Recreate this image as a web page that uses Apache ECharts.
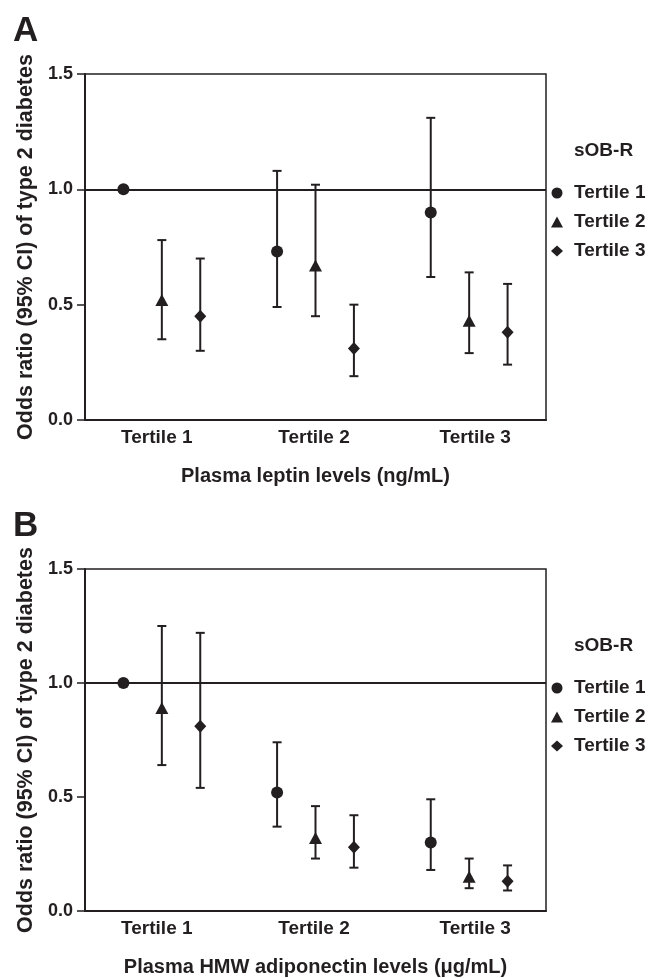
<!DOCTYPE html>
<html>
<head>
<meta charset="utf-8">
<title>Odds ratio of type 2 diabetes by sOB-R tertiles</title>
<script src="https://cdn.jsdelivr.net/npm/echarts@6/dist/echarts.min.js"></script>
<style>
  html, body { margin: 0; padding: 0; background: #fff; }
  #chart { width: 653px; height: 978px; }
</style>
</head>
<body>
<div id="chart"></div>
<script>
// x categories (tertiles of the plasma marker) and sOB-R groups
const categories = ['Tertile 1', 'Tertile 2', 'Tertile 3']
const sobrGroups = ['Tertile 1', 'Tertile 2', 'Tertile 3']
const yTicks = [0, 0.5, 1.0, 1.5]

// A: leptin, one array per sOB-R tertile (value per leptin tertile)
const leptinOR1 = [1.00, 0.73, 0.90]
const leptinLow1 = [null, 0.49, 0.62]
const leptinHigh1 = [null, 1.08, 1.31]
const leptinOR2 = [0.52, 0.67, 0.43]
const leptinLow2 = [0.35, 0.45, 0.29]
const leptinHigh2 = [0.78, 1.02, 0.64]
const leptinOR3 = [0.45, 0.31, 0.38]
const leptinLow3 = [0.30, 0.19, 0.24]
const leptinHigh3 = [0.70, 0.50, 0.59]

// B: HMW adiponectin
const adipoOR1 = [1.00, 0.52, 0.30]
const adipoLow1 = [null, 0.37, 0.18]
const adipoHigh1 = [null, 0.74, 0.49]
const adipoOR2 = [0.89, 0.32, 0.15]
const adipoLow2 = [0.64, 0.23, 0.10]
const adipoHigh2 = [1.25, 0.46, 0.23]
const adipoOR3 = [0.81, 0.28, 0.13]
const adipoLow3 = [0.54, 0.19, 0.09]
const adipoHigh3 = [1.22, 0.42, 0.20]

const INK = '#231f20'
const FONT = '"Liberation Sans", Arial, Helvetica, sans-serif'
const symbols = ['circle', 'triangle', 'diamond']
const symbolSizes = [12, [13, 12], [12, 13]]
const shift = [-0.25, 0, 0.25]   // position inside each category band

const panels = [
  {
    letter: 'A', top: 74, xName: 'Plasma leptin levels (ng/mL)',
    or: [leptinOR1, leptinOR2, leptinOR3],
    low: [leptinLow1, leptinLow2, leptinLow3],
    high: [leptinHigh1, leptinHigh2, leptinHigh3]
  },
  {
    letter: 'B', top: 569, xName: 'Plasma HMW adiponectin levels (\u03bcg/mL)',
    or: [adipoOR1, adipoOR2, adipoOR3],
    low: [adipoLow1, adipoLow2, adipoLow3],
    high: [adipoHigh1, adipoHigh2, adipoHigh3]
  }
]

const chart = echarts.init(document.getElementById('chart'))

const grid = [], xAxis = [], yAxis = [], series = [], title = [], legend = []

// error bar with caps
function errorBar(params, api) {
  const x = api.value(0)
  const lo = api.coord([x, api.value(1)])
  const hi = api.coord([x, api.value(2)])
  const w = 4.5
  const style = { stroke: INK, lineWidth: 2 }
  return {
    type: 'group',
    children: [
      { type: 'line', shape: { x1: lo[0], y1: lo[1], x2: hi[0], y2: hi[1] }, style },
      { type: 'line', shape: { x1: lo[0] - w, y1: lo[1], x2: lo[0] + w, y2: lo[1] }, style },
      { type: 'line', shape: { x1: hi[0] - w, y1: hi[1], x2: hi[0] + w, y2: hi[1] }, style }
    ]
  }
}

const labelFont = { color: INK, fontSize: 19, fontWeight: 'bold', fontFamily: FONT }

panels.forEach((p, k) => {
  grid.push({
    left: 85, top: p.top, width: 461, height: 346,
    show: true, borderColor: INK, borderWidth: 1.5
  })

  // visible category axis for the labels
  xAxis.push({
    type: 'category', gridIndex: k, data: categories, position: 'bottom',
    boundaryGap: true,
    axisLine: { lineStyle: { color: INK, width: 2 } },
    axisTick: { show: false },
    axisLabel: {
      ...labelFont, margin: 8,
      // the labels in the figure sit slightly off the band centres
      formatter: (v, i) => ['{a|', '{b|', '{c|'][i] + v + '}',
      rich: {
        a: { ...labelFont, padding: [0, 10, 0, 0] },
        b: { ...labelFont, padding: [0, 3, 0, 0] },
        c: { ...labelFont, padding: [0, 0, 0, 12] }
      }
    },
    name: p.xName, nameLocation: 'middle', nameGap: 46,
    nameTextStyle: { color: INK, fontSize: 20, fontWeight: 'bold', fontFamily: FONT }
  })
  // hidden value axis used to place the points within each band
  xAxis.push({ type: 'value', gridIndex: k, min: 0, max: categories.length, show: false })

  yAxis.push({
    type: 'value', gridIndex: k, min: yTicks[0], max: yTicks[yTicks.length - 1], interval: 0.5,
    axisLine: { show: true, lineStyle: { color: INK, width: 2 } },
    axisTick: { show: true, length: 8, lineStyle: { color: INK, width: 1.5 } },
    splitLine: { show: false },
    axisLabel: {
      color: INK, fontSize: 18, fontWeight: 'bold', fontFamily: FONT, margin: 12,
      formatter: v => v.toFixed(1)
    },
    name: 'Odds ratio (95% CI) of type 2 diabetes', nameLocation: 'middle', nameGap: 46,
    nameTextStyle: { color: INK, fontSize: 21.5, fontWeight: 'bold', fontFamily: FONT }
  })

  title.push({
    text: p.letter, left: 13, top: p.top - 60, padding: 0,
    textStyle: { color: INK, fontSize: 35, fontWeight: 'bold', fontFamily: FONT }
  })
  title.push({
    text: 'sOB-R', left: 574, top: p.top + 67, padding: 0,
    textStyle: { color: INK, fontSize: 19, fontWeight: 'bold', fontFamily: FONT }
  })

  legend.push({
    data: sobrGroups, orient: 'vertical', left: 551, top: p.top + 109, padding: 0,
    itemWidth: 12, itemHeight: 11, itemGap: 9,
    selectedMode: false,
    textStyle: { ...labelFont, lineHeight: 20, padding: [0, 0, 0, 6] }
  })

  sobrGroups.forEach((g, s) => {
    const pts = p.or[s].map((v, i) => [i + 0.5 + shift[s], v])
    const bars = []
    p.or[s].forEach((v, i) => {
      if (p.low[s][i] != null) bars.push([i + 0.5 + shift[s], p.low[s][i], p.high[s][i]])
    })

    series.push({
      type: 'custom', name: 'ci-' + p.letter + '-' + s,
      xAxisIndex: 2 * k + 1, yAxisIndex: k,
      renderItem: errorBar, data: bars,
      encode: { x: 0, y: [1, 2] }, z: 2, silent: true
    })

    const sc = {
      type: 'scatter', name: g,
      xAxisIndex: 2 * k + 1, yAxisIndex: k,
      symbol: symbols[s], symbolSize: symbolSizes[s],
      itemStyle: { color: INK, opacity: 1 },
      data: pts, z: 3
    }
    if (s === 0) {
      sc.markLine = {
        silent: true, symbol: ['none', 'none'],
        label: { show: false },
        lineStyle: { color: INK, width: 2, type: 'solid' },
        data: [{ yAxis: 1 }]
      }
    }
    series.push(sc)
  })
})

chart.setOption({
  animation: false,
  backgroundColor: '#fff',
  title, legend, grid, xAxis, yAxis, series
})
</script>
</body>
</html>
